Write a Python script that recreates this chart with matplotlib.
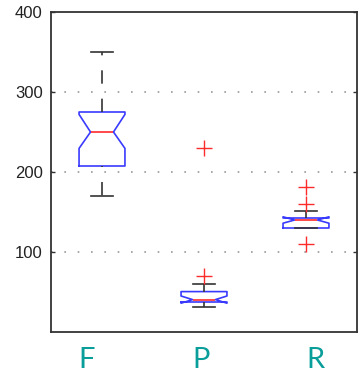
import matplotlib
matplotlib.use("Agg")
import matplotlib.pyplot as plt
import matplotlib.transforms as mtransforms

categories = ["F", "P", "R"]
medians = [250, 40.5, 140]
q1 = [207.5, 37.5, 130]
q3 = [275, 50.5, 142.5]
whislo = [170.5, 31, 130]
whishi = [350, 60.5, 151]
ci_lo = [229.5, 36, 136]
ci_hi = [272, 45, 144]
fliers = [[], [230, 70.5], [181, 160, 110.5]]
y_ticks = [100, 200, 300, 400]

fig = plt.figure(figsize=(3.6, 3.76), dpi=100)
ax = fig.add_axes([51 / 360, 1 - 332 / 376, 306 / 360, 320 / 376])

stats = []
for i, c in enumerate(categories):
    stats.append(dict(label=c, med=medians[i], q1=q1[i], q3=q3[i],
                      whislo=whislo[i], whishi=whishi[i],
                      cilo=ci_lo[i], cihi=ci_hi[i], fliers=fliers[i]))

blue = "#3a3aff"
red = "#ff2a2a"
res = ax.bxp(stats, positions=[1, 2, 3], widths=0.45, shownotches=True,
             boxprops=dict(color=blue, linewidth=1.2),
             medianprops=dict(color=red, linewidth=1.2),
             whiskerprops=dict(color="#333333", linewidth=1.2, linestyle=(0, (8, 9))),
             capprops=dict(color="#333333", linewidth=1.2),
             flierprops=dict(marker="+", markeredgecolor=red, markersize=11,
                             markeredgewidth=1.0, linestyle="none"))
# lower whisker of F: shift dash pattern
res["whiskers"][0].set_linestyle((7.4, (8, 9)))

ax.set_xlim(0.5, 3.5)
ax.set_ylim(0, 400)
ax.set_yticks(y_ticks)
ax.set_yticklabels([str(v) for v in y_ticks], fontsize=12, color="#222222",
                   family=["Liberation Sans", "DejaVu Sans"])
ax.tick_params(axis="y", direction="in", length=3, width=1, color="#333333",
               left=True, right=True, pad=6)
ax.tick_params(axis="x", bottom=False, labelbottom=False)
for v in y_ticks[:-1]:
    ax.axhline(v, color="#9a9a9a", linestyle=(0, (1, 7)), linewidth=1.2, zorder=0)
for s in ax.spines.values():
    s.set_color("#333333")
    s.set_linewidth(1.3)

trans = mtransforms.blended_transform_factory(ax.transData, ax.transAxes)
label_x = [0.85, 1.97, 3.09]
for x, c in zip(label_x, categories):
    ax.text(x, -0.1125, c, transform=trans, ha="center", va="baseline", fontsize=21,
            color="#0a9e9a", family=["Lato", "DejaVu Sans"])

fig.savefig("out.png", dpi=100)
